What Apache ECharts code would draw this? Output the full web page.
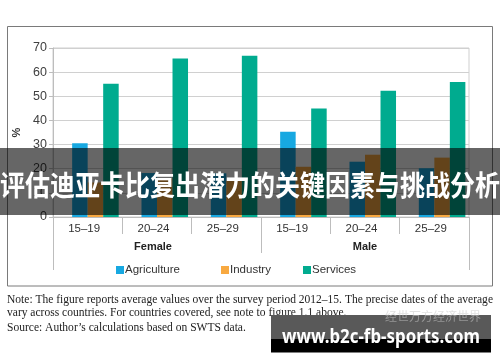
<!DOCTYPE html>
<html><head><meta charset="utf-8">
<script src="https://cdn.jsdelivr.net/npm/echarts@6/dist/echarts.min.js"></script>
<style>html,body{margin:0;padding:0;background:#fff}#c{width:500px;height:362px}</style>
</head><body><div id="c"></div>
<script>
// ---- data ----
const categories = ['15–19', '20–24', '25–29', '15–19', '20–24', '25–29'];
const groups = ['Female', 'Male'];
const seriesNames = ['Agriculture', 'Industry', 'Services'];
const agriculture = [30.5, 18.2, 18.1, 35.3, 22.9, 20.2];
const industry = [14.3, 16.0, 15.0, 20.8, 25.8, 24.6];
const services = [55.2, 65.7, 66.8, 44.9, 52.3, 55.9];
const yMin = 0, yMax = 70, yInterval = 10;
const yName = '%';
const noteLines = [
  'Note: The figure reports average values over the survey period 2012–15. The precise dates of the average',
  'vary across countries. For countries covered, see note to figure 1.1 above.',
  'Source: Author’s calculations based on SWTS data.'
];
const bannerText = '评估迪亚卡比复出潜力的关键因素与挑战分析';
const watermarkText = 'www.b2c-fb-sports.com';
const faintText = '经世万方经济世界';

// ---- styling ----
const colors = ['#17a8e1', '#f8a941', '#00ab8f'];
const axisGray = '#bdbdbd';

function measure(text, font) {
  const ctx = document.createElement('canvas').getContext('2d');
  ctx.font = font;
  return ctx.measureText(text).width;
}
const noteFont = '12px "Liberation Serif"';
const noteScale = 486 / measure(noteLines[0], noteFont);
const wmFont = 'bold 19px "Noto Sans"';
const wmScale = 198 / measure(watermarkText, wmFont);

const chart = echarts.init(document.getElementById('c'), null, {renderer: 'canvas'});

const legendLeft = [116, 221, 303];
const option = {
  animation: false,
  textStyle: {fontFamily: 'Liberation Sans'},
  color: colors,
  grid: {left: 53, right: 31, top: 48, bottom: 145, show: true, borderColor: '#cfcfcf', borderWidth: 1},
  legend: seriesNames.map((n, i) => ({
    data: [n], left: legendLeft[i], top: 264, padding: 0, itemGap: 0,
    itemWidth: 8, itemHeight: 8, icon: 'rect', selectedMode: false,
    textStyle: {fontSize: 11.5, color: '#333', padding: [0, 0, 0, -4], fontFamily: 'Liberation Sans'}
  })),
  xAxis: [
    {
      type: 'category', data: categories, position: 'bottom',
      axisLine: {show: true, lineStyle: {color: axisGray}},
      axisTick: {show: true, interval: 0, length: 17, lineStyle: {color: axisGray}},
      axisLabel: {interval: 0, margin: 6, fontSize: 11.5, color: '#333', padding: [0, 7, 0, 0]}
    },
    {
      type: 'category', data: groups, position: 'bottom',
      axisLine: {show: false},
      axisTick: {show: true, interval: 0, length: 36, lineStyle: {color: axisGray}},
      axisLabel: {interval: 0, margin: 24, fontSize: 11, fontWeight: 'bold', color: '#222',
        formatter: v => v === 'Female' ? '{f|' + v + '}' : v,
        rich: {f: {fontSize: 11, fontWeight: 'bold', color: '#222', padding: [0, 8, 0, 0]}}}
    },
    {
      type: 'category', data: [''], position: 'bottom',
      axisLine: {show: false},
      axisTick: {show: true, length: 53, lineStyle: {color: axisGray}},
      axisLabel: {show: false}
    }
  ],
  yAxis: {
    type: 'value', min: yMin, max: yMax, interval: yInterval,
    name: yName, nameLocation: 'middle', nameGap: 29, nameRotate: 90,
    nameTextStyle: {fontSize: 11, fontWeight: 'bold', color: '#333'},
    axisLine: {show: true, lineStyle: {color: axisGray}},
    axisTick: {show: true, length: 4, lineStyle: {color: axisGray}},
    axisLabel: {margin: 6, fontSize: 12.5, color: '#404040'},
    splitLine: {lineStyle: {color: '#d0d0d0'}}
  },
  series: [
    {type: 'bar', name: '_blank', data: categories.map(() => null), barGap: '0%', barCategoryGap: '10.5%'},
    {type: 'bar', name: seriesNames[0], data: agriculture, itemStyle: {color: colors[0]}, barGap: '0%', barCategoryGap: '10.5%'},
    {type: 'bar', name: seriesNames[1], data: industry, itemStyle: {color: colors[1]}, barGap: '0%', barCategoryGap: '10.5%'},
    {type: 'bar', name: seriesNames[2], data: services, itemStyle: {color: colors[2]}, barGap: '0%', barCategoryGap: '10.5%'}
  ],
  graphic: [
    {type: 'rect', z: 50, shape: {x: 7.5, y: 26.5, width: 485, height: 259.5}, style: {fill: 'none', stroke: '#7a7a7a', lineWidth: 1}},
    ...noteLines.map((t, i) => ({
      type: 'text', z: 50, x: 7, y: [299.5, 312.5, 327.5][i], scaleX: noteScale,
      style: {text: t, x: 0, y: 0, font: noteFont, fill: '#222', textVerticalAlign: 'middle'}
    })),
    {type: 'rect', z: 100, shape: {x: 0, y: 148, width: 500, height: 67}, style: {fill: 'rgba(0,0,0,0.6)'}},
    {type: 'text', z: 101, x: 250, y: 185.5, scaleY: 1.15,
      style: {text: bannerText, x: 0, y: 0, fontSize: 25, fontWeight: 'bold', fontFamily: 'Noto Sans CJK SC',
        fill: '#fff', textAlign: 'center', textVerticalAlign: 'middle'}},
    {type: 'rect', z: 100, shape: {x: 271, y: 315, width: 220, height: 24}, style: {fill: '#595959'}},
    {type: 'rect', z: 100, shape: {x: 271, y: 339, width: 220, height: 13.5}, style: {fill: '#000'}},
    {type: 'text', z: 101, x: 385, y: 316.5,
      style: {text: faintText, x: 0, y: 0, fontSize: 12, fontFamily: 'Noto Sans CJK SC', fill: 'rgba(200,200,200,0.55)', textVerticalAlign: 'middle'}},
    {type: 'text', z: 102, x: 282, y: 337.5, scaleX: wmScale,
      style: {text: watermarkText, x: 0, y: 0, font: wmFont, fill: '#fff', textVerticalAlign: 'middle'}}
  ]
};
chart.setOption(option);
</script></body></html>
